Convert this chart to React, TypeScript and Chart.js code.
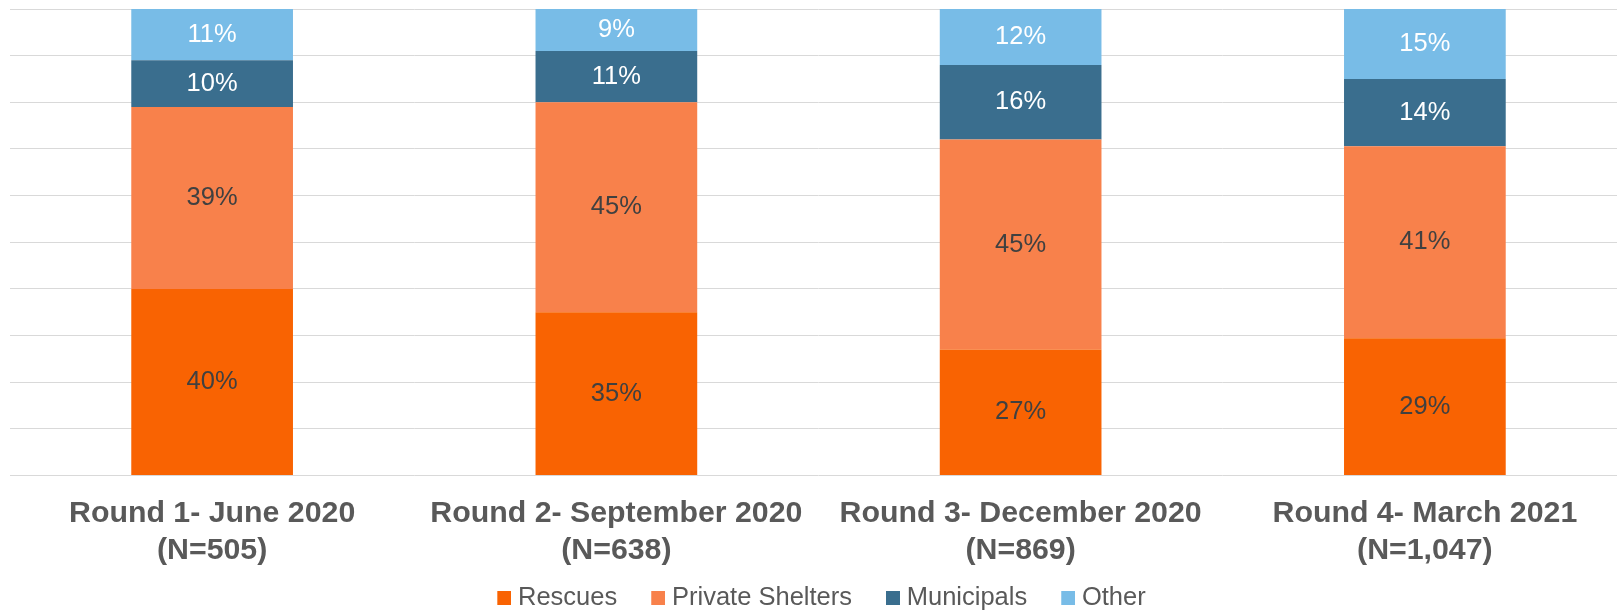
import React, { useEffect, useRef } from "react";
import { Chart, registerables } from "chart.js";

Chart.register(...registerables);

const categories: string[][] = [
  ["Round 1- June 2020", "(N=505)"],
  ["Round 2- September 2020", "(N=638)"],
  ["Round 3- December 2020", "(N=869)"],
  ["Round 4- March 2021", "(N=1,047)"],
];

const seriesNames = ["Rescues", "Private Shelters", "Municipals", "Other"];
const rescues = [40, 35, 27, 29.4];
const privateShelters = [39, 45, 45, 41.2];
const municipals = [10, 11, 16, 14.4];
const other = [11, 9, 12, 15.0];

const seriesColors = ["#F96302", "#F8814B", "#3A6E8E", "#78BCE7"];
const labelColors = ["#404040", "#404040", "#FFFFFF", "#FFFFFF"];

const FONT = "'Liberation Sans', Arial, sans-serif";

// Legend marker: a 14px square drawn at the right part of a wider transparent image,
// so the gap between marker and text is tighter (as in the reference).
function makeMarker(color: string): HTMLCanvasElement {
  const c = document.createElement("canvas");
  c.width = 26;
  c.height = 14;
  const g = c.getContext("2d");
  if (g) {
    g.fillStyle = color;
    g.fillRect(12, 0, 14, 14);
  }
  return c;
}

const segmentLabels = {
  id: "segmentLabels",
  afterDatasetsDraw(chart: any) {
    const ctx = chart.ctx;
    chart.data.datasets.forEach((ds: any, di: number) => {
      const meta = chart.getDatasetMeta(di);
      if (meta.hidden) return;
      meta.data.forEach((el: any, i: number) => {
        const v = ds.data[i] as number;
        const { x, y, base } = el.getProps(["x", "y", "base"], true);
        ctx.save();
        ctx.fillStyle = labelColors[di];
        ctx.font = `25.5px ${FONT}`;
        ctx.textAlign = "center";
        ctx.textBaseline = "middle";
        ctx.fillText(`${Math.round(v)}%`, x, (y + base) / 2);
        ctx.restore();
      });
    });
  },
};

// Pulls the legend row a little closer to the category labels.
const legendLift = {
  id: "legendLift",
  afterLayout(chart: any) {
    const lg = chart.legend;
    if (lg) {
      lg.top -= 13;
      lg.bottom -= 13;
    }
  },
};

export default function App() {
  const canvasRef = useRef<HTMLCanvasElement | null>(null);

  useEffect(() => {
    if (!canvasRef.current) return;
    const values = [rescues, privateShelters, municipals, other];
    const markers = seriesColors.map(makeMarker);
    const chart = new Chart(canvasRef.current, {
      type: "bar",
      data: {
        labels: categories,
        datasets: values.map((d, i) => ({
          label: seriesNames[i],
          data: d,
          backgroundColor: seriesColors[i],
          borderWidth: 0,
          categoryPercentage: 1,
          barPercentage: 0.4,
        })),
      },
      options: {
        responsive: false,
        animation: false,
        devicePixelRatio: 1,
        layout: { padding: { top: 1, left: 2, right: 2, bottom: 0 } },
        plugins: {
          tooltip: { enabled: false },
          legend: {
            position: "bottom",
            labels: {
              usePointStyle: true,
              boxWidth: 14,
              boxHeight: 14,
              padding: 28,
              color: "#595959",
              font: { size: 25.5, family: FONT },
              generateLabels: (ch: any) => {
                const items = (Chart as any).defaults.plugins.legend.labels.generateLabels(ch);
                return items.map((it: any) => ({
                  ...it,
                  pointStyle: markers[it.datasetIndex],
                }));
              },
            },
          },
        },
        scales: {
          x: {
            stacked: true,
            grid: { display: false, drawTicks: false },
            border: { display: false },
            ticks: {
              autoSkip: false,
              maxRotation: 0,
              padding: 19.4,
              color: "#595959",
              font: { size: 30.3, weight: "bold", family: FONT, lineHeight: 1.23 },
            },
            afterFit: (scale: any) => {
              scale.height = 95;
            },
          },
          y: {
            stacked: true,
            min: 0,
            max: 100,
            ticks: { display: false, stepSize: 10 },
            grid: { color: "#D9D9D9", lineWidth: 1, drawTicks: false },
            border: { display: false },
          },
        },
      },
      plugins: [segmentLabels, legendLift],
    });
    return () => chart.destroy();
  }, []);

  return (
    <div
      style={{
        position: "fixed",
        left: 8,
        top: 8,
        width: 1609,
        height: 605,
        overflow: "hidden",
        background: "#FFFFFF",
      }}
    >
      <canvas ref={canvasRef} width={1621} height={626} style={{ display: "block" }} />
    </div>
  );
}
